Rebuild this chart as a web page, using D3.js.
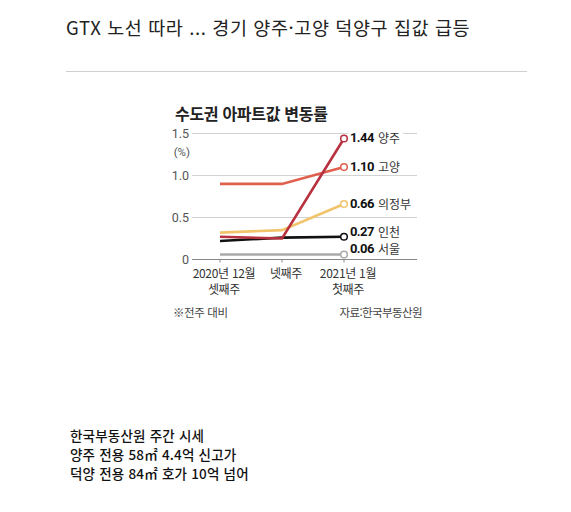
<!DOCTYPE html>
<html lang="ko">
<head>
  <meta charset="UTF-8">
  <title>수도권 아파트값 변동률</title>
  <script src="https://cdn.jsdelivr.net/npm/d3@7"></script>
  <style>
    body { margin: 0; background: #fff; }
    text { font-family: "Noto Sans CJK KR", "Noto Sans", sans-serif; }
  </style>
</head>
<body>
  <script>
    // data
    var weeks = ["2020년 12월|셋째주", "넷째주", "2021년 1월|첫째주"];
    var regions = ["양주", "고양", "의정부", "인천", "서울"];
    var yangju = [0.27, 0.25, 1.44];
    var goyang = [0.90, 0.90, 1.10];
    var uijeongbu = [0.32, 0.35, 0.66];
    var incheon = [0.22, 0.26, 0.27];
    var seoul = [0.06, 0.06, 0.06];
    var yTicks = [0, 0.5, 1.0, 1.5];
    var yTickLabels = ["0", "0.5", "1.0", "1.5"];

    var colors = ["#b8313f", "#e0604e", "#f1c46c", "#111111", "#aaaaaa"];
    var labelNudge = [-1, -1, -1, -5, -6];

    var series = [yangju, goyang, uijeongbu, incheon, seoul].map(function(v, i) {
      return { name: regions[i], values: v, color: colors[i], nudge: labelNudge[i] };
    });

    var svg = d3.select("body").append("svg").attr("width", 571).attr("height", 512);

    // headline
    svg.append("text")
      .attr("x", 66).attr("y", 27)
      .attr("dominant-baseline", "central")
      .style("font-size", "18.5px").style("fill", "#222")
      .style("letter-spacing", "0.6px")
      .text("GTX 노선 따라 ... 경기 양주·고양 덕양구 집값 급등");
    svg.append("line")
      .attr("x1", 66).attr("x2", 527).attr("y1", 71.5).attr("y2", 71.5)
      .attr("stroke", "#cfcfcf").attr("stroke-width", 1);

    // chart title
    svg.append("text")
      .attr("x", 175).attr("y", 113)
      .attr("dominant-baseline", "central")
      .style("font-size", "16px").style("font-weight", "bold").style("fill", "#222")
      .style("letter-spacing", "-0.3px")
      .text("수도권 아파트값 변동률");

    var x = d3.scalePoint().domain(weeks).range([220, 344]);
    var y = d3.scaleLinear().domain([0, 1.5]).range([259.5, 133.5]);

    // grid
    svg.selectAll(".grid").data(yTicks.slice(1)).enter().append("line")
      .attr("x1", 192).attr("x2", 417)
      .attr("y1", function(d) { return y(d); })
      .attr("y2", function(d) { return y(d); })
      .attr("stroke", "#d2d2d2").attr("stroke-width", 1);

    svg.append("line")
      .attr("x1", 192).attr("x2", 417).attr("y1", y(0)).attr("y2", y(0))
      .attr("stroke", "#888").attr("stroke-width", 1.2);
    svg.selectAll(".tick").data(weeks).enter().append("line")
      .attr("x1", function(d) { return x(d); })
      .attr("x2", function(d) { return x(d); })
      .attr("y1", y(0)).attr("y2", y(0) + 3)
      .attr("stroke", "#888").attr("stroke-width", 1);

    svg.selectAll(".ylab").data(yTicks).enter().append("text")
      .attr("x", 189)
      .attr("y", function(d) { return y(d); })
      .attr("text-anchor", "end").attr("dominant-baseline", "central")
      .style("font-size", "12.5px").style("fill", "#555")
      .style("font-family", "Roboto, sans-serif")
      .text(function(d, i) { return yTickLabels[i]; });
    svg.append("text")
      .attr("x", 190).attr("y", 152)
      .attr("text-anchor", "end").attr("dominant-baseline", "central")
      .style("font-size", "11.5px").style("fill", "#555")
      .style("font-family", "Roboto, sans-serif")
      .text("(%)");

    // x labels
    var xl = svg.selectAll(".xlab").data(weeks).enter().append("text")
      .attr("text-anchor", "middle")
      .style("font-size", "12px").style("fill", "#333")
      .style("letter-spacing", "-0.3px");
    xl.each(function(d) {
      var parts = d.split("|");
      var t = d3.select(this);
      parts.forEach(function(p, j) {
        t.append("tspan")
          .attr("x", x(d) + 4)
          .attr("y", 277.5 + j * 16)
          .text(p);
      });
    });

    // lines
    var line = d3.line()
      .x(function(d, i) { return x(weeks[i]); })
      .y(function(d) { return y(d); });

    var drawOrder = [4, 2, 3, 1, 0];
    drawOrder.forEach(function(k) {
      var s = series[k];
      svg.append("path")
        .attr("d", line(s.values))
        .attr("fill", "none")
        .attr("stroke", s.color)
        .attr("stroke-width", 2.6);
      svg.append("circle")
        .attr("cx", x(weeks[2]))
        .attr("cy", y(s.values[2]))
        .attr("r", 3.3)
        .attr("fill", "#fff")
        .attr("stroke", s.color)
        .attr("stroke-width", 1.5);
    });

    // end labels
    series.forEach(function(s) {
      var cy = y(s.values[2]) + s.nudge;
      var g = svg.append("g");
      var bg = g.append("rect").attr("fill", "#fff");
      g.append("text")
        .attr("x", 350).attr("y", cy)
        .attr("dominant-baseline", "central")
        .style("font-size", "13px").style("font-weight", "bold").style("fill", "#111")
        .style("font-family", "Roboto, sans-serif")
        .style("letter-spacing", "-0.6px")
        .text(s.values[2].toFixed(2));
      g.append("text")
        .attr("x", 378).attr("y", cy)
        .attr("dominant-baseline", "central")
        .style("font-size", "12px").style("fill", "#333")
        .text(s.name);
      var b = g.node().getBBox();
      bg.attr("x", 348).attr("y", b.y).attr("width", b.x + b.width - 348 + 3).attr("height", b.height);
    });

    // notes
    svg.append("text")
      .attr("x", 173).attr("y", 312)
      .attr("dominant-baseline", "central")
      .style("font-size", "11.5px").style("fill", "#444")
      .style("letter-spacing", "-0.4px")
      .text("※전주 대비");
    svg.append("text")
      .attr("x", 422).attr("y", 312)
      .attr("text-anchor", "end").attr("dominant-baseline", "central")
      .style("font-size", "11.5px").style("fill", "#444")
      .style("letter-spacing", "-0.6px")
      .text("자료:한국부동산원");

    // bottom caption
    var caption = ["한국부동산원 주간 시세", "양주 전용 58㎡ 4.4억 신고가", "덕양 전용 84㎡ 호가 10억 넘어"];
    svg.selectAll(".cap").data(caption).enter().append("text")
      .attr("x", 70)
      .attr("y", function(d, i) { return 435 + i * 19; })
      .attr("dominant-baseline", "central")
      .style("font-size", "13.5px").style("font-weight", "500").style("fill", "#111")
      .style("letter-spacing", "0.2px")
      .text(function(d) { return d; });
  </script>
</body>
</html>
